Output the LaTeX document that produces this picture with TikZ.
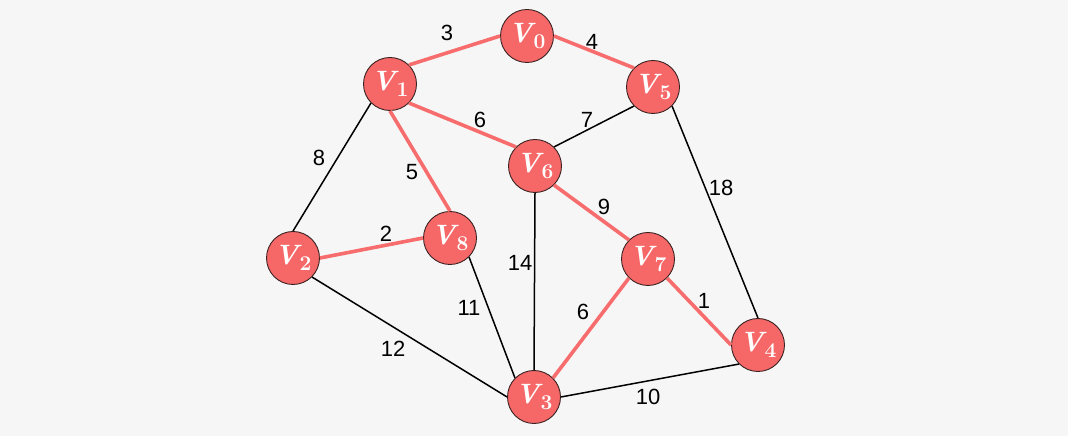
\documentclass[tikz,border=0pt]{standalone}
\usepackage{amsmath,amssymb}
\usepackage{fontspec}
\setsansfont{Liberation Sans}
\usepackage{tikz}
\usetikzlibrary{arrows.meta,calc}
\definecolor{vfill}{HTML}{F66767}
\definecolor{vedge}{HTML}{F76C6C}
\definecolor{vrim}{HTML}{3A2222}
\definecolor{bgcol}{HTML}{F6F6F6}
\tikzset{
  vtx/.style  ={circle,draw=vrim,line width=0.9pt,fill=vfill,minimum size=53pt,
                inner sep=0pt,text=white,font=\bfseries\fontsize{28}{30}\selectfont},
  hot/.style  ={draw=vedge,line width=3.6pt},
  cold/.style ={draw=black,line width=1.5pt},
  wt/.style   ={font=\sffamily\fontsize{22}{25}\selectfont,inner sep=0pt},
}
% vertex label: bold italic V with a large bold subscript
\newcommand{\vx}[1]{{\itshape V}\kern1pt\raisebox{-6pt}{\fontsize{21}{21}\selectfont #1}}

\begin{document}
\begin{tikzpicture}[x=1pt,y=1pt]
\fill[bgcol] (0,0) rectangle (1068,436);
\useasboundingbox (0,0) rectangle (1068,436);

% vertices
\node[vtx] (V0) at (527,400) {\vx{0}};
\node[vtx] (V1) at (390,352) {\vx{1}};
\node[vtx] (V5) at (653,349) {\vx{5}};
\node[vtx] (V6) at (535,270) {\vx{6}};
\node[vtx] (V8) at (450,198) {\vx{8}};
\node[vtx] (V2) at (293,178) {\vx{2}};
\node[vtx] (V7) at (648,177) {\vx{7}};
\node[vtx] (V4) at (758,91)  {\vx{4}};
\node[vtx] (V3) at (534,39)  {\vx{3}};

% ---- edges --------------------------------------------------------------
\path[hot]  (V1.north east) -- (V0.west);
\path[hot]  (V0.east) -- (V5.north west);
\path[hot]  (V1.south east) -- (V6.north west);
\path[cold] (V5.south west) -- (V6.north east);
\path[cold] (V1.south west) -- (V2.north);
\path[hot]  (V1.south) -- (V8.north);
\path[hot]  (V2.east) -- (V8.west);
\path[hot]  (V6.south east) -- (V7.north west);
\path[cold] (V5.south east) -- (V4.north);
\path[cold] (V6.south) -- (V3.north);
\path[cold] (V8.south east) -- (V3.north west);
\path[hot]  (V7.south west) -- (V3.north east);
\path[hot]  (V7.south east) -- (V4.west);
\path[cold] (V2.south east) -- (V3.west);
\path[cold] (V3.east) -- (V4.south west);

% ---- weights ------------------------------------------------------------
\node[wt] (w10) at (447,403) {3};
\node[wt] (w05) at (592,394) {4};
\node[wt] (w16) at (480,316) {6};
\node[wt] (w56) at (587,316) {7};
\node[wt] (w12) at (319,278) {8};
\node[wt] (w18) at (412,264) {5};
\node[wt] (w28) at (386,202) {2};
\node[wt] (w67) at (604,229) {9};
\node[wt] (w54) at (721,248) {18};
\node[wt] (w63) at (520,173) {14};
\node[wt] (w83) at (469,128) {11};
\node[wt] (w73) at (583,124) {6};
\node[wt] (w74) at (704,135) {1};
\node[wt] (w23) at (393,87)  {12};
\node[wt] (w34) at (648,39)  {10};
\end{tikzpicture}
\end{document}
